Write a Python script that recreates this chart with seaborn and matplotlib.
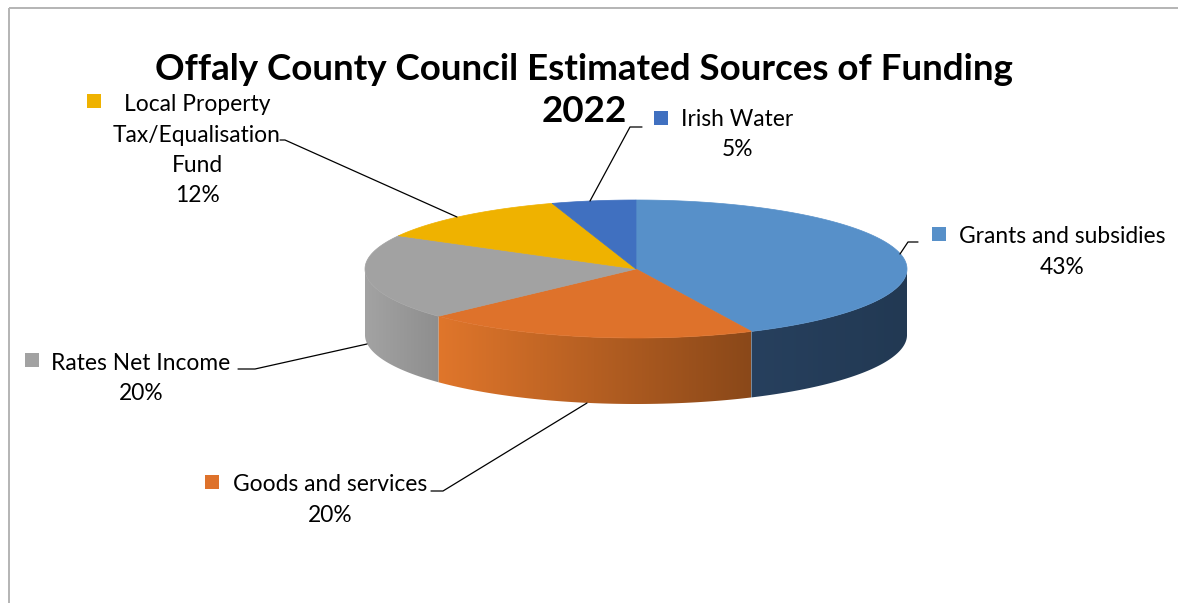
import numpy as np
import matplotlib
matplotlib.use("Agg")
import matplotlib.pyplot as plt
import seaborn as sns
from matplotlib.patches import Polygon, Rectangle
from matplotlib.colors import to_rgb

# ---------------- data ----------------
categories = ["Grants and subsidies", "Goods and services", "Rates Net Income",
              "Local Property\nTax/Equalisation\nFund", "Irish Water"]
values = [43, 20, 20, 12, 5]
top_colors = ["#5790c9", "#de722b", "#a2a2a2", "#efb200", "#4070c0"]
side_left = ["#27405e", "#e0762b", "#a3a3a3", "#c99600", "#2f5597"]
side_right = ["#223953", "#8a4819", "#8e8e8e", "#c99600", "#2f5597"]
title_lines = ["Offaly County Council Estimated Sources of Funding", "2022"]

sns.set_theme(style="white")
plt.rcParams['font.family'] = ['Lato', 'DejaVu Sans']

W, H = 1178, 603
fig = plt.figure(figsize=(W / 100, H / 100), dpi=100)
ax = fig.add_axes([0, 0, 1, 1])
ax.set_xlim(0, W)
ax.set_ylim(H, 0)
ax.axis("off")

# frame lines (top and left)
ax.plot([9, W], [8, 8], color="#b4b4b4", lw=1.4, solid_capstyle="butt")
ax.plot([9, 9], [8, H], color="#b4b4b4", lw=1.4, solid_capstyle="butt")

# ---------------- 3D pie geometry ----------------
cx, cy, rx, ry, depth = 636, 269, 271, 69, 66
start = 90.0
angles = []
a = start
for v in values:
    span = 360.0 * v / sum(values)
    angles.append((a - span, a))  # clockwise
    a -= span


def pt(t_deg, dy=0.0):
    t = np.radians(t_deg)
    return cx + rx * np.cos(t), cy - ry * np.sin(t) + dy


# sides (front visible part: angles between -180 and 0), gradient fill
for i, (a0, a1) in enumerate(angles):
    segs = []
    for shift in (0, -360, 360):
        l, h = a0 + shift, a1 + shift
        l2, h2 = max(l, -180), min(h, 0)
        if h2 > l2:
            segs.append((l2, h2))
    for (l2, h2) in segs:
        ts = np.linspace(l2, h2, 200)
        top = [pt(t) for t in ts]
        bot = [pt(t, depth) for t in ts[::-1]]
        poly = Polygon(top + bot, closed=True, facecolor="none", edgecolor="none")
        ax.add_patch(poly)
        xs = [p[0] for p in top]
        ys = [p[1] for p in top]
        xmin, xmax = min(xs), max(xs)
        ymin, ymax = min(ys), max(ys) + depth
        c_left = np.array(to_rgb(side_left[i]))
        c_right = np.array(to_rgb(side_right[i]))
        f = np.linspace(0, 1, 256)[None, :, None]
        img = c_left[None, None, :] * (1 - f) + c_right[None, None, :] * f
        img = np.repeat(img, 2, axis=0)
        im = ax.imshow(img, extent=(xmin, xmax, ymax + 1, ymin - 1),
                       aspect="auto", interpolation="bilinear", zorder=1)
        im.set_clip_path(poly)

# top face
for i, (a0, a1) in enumerate(angles):
    ts = np.linspace(a0, a1, 200)
    pts = [(cx, cy)] + [pt(t) for t in ts]
    ax.add_patch(Polygon(pts, closed=True, facecolor=top_colors[i],
                         edgecolor=top_colors[i], lw=0.5, zorder=2))

ax.set_xlim(0, W)
ax.set_ylim(H, 0)

# ---------------- labels ----------------
fig.canvas.draw()
renderer = fig.canvas.get_renderer()


def fit(t, width):
    bb = t.get_window_extent(renderer)
    t.set_fontsize(t.get_fontsize() * width / bb.width)


# label layout: (text centre x, first line centre y, marker centre, first-line width)
layout = {
    "Grants and subsidies": (1062, 235, (939, 234), 209),
    "Goods and services": (330, 483, (212, 482), 195),
    "Rates Net Income": (141, 362, (32, 360), 179),
    "Local Property\nTax/Equalisation\nFund": (197, 103, (94, 101), 145),
    "Irish Water": (737, 118, (661, 118), 111),
}
leaders = {
    "Grants and subsidies": [(900, 254), (908, 242), (918, 242)],
    "Goods and services": [(587, 403), (443, 491), (431, 491)],
    "Rates Net Income": [(367, 344), (255, 369), (238, 369)],
    "Local Property\nTax/Equalisation\nFund": [(457, 217), (285, 140), (280, 140)],
    "Irish Water": [(590, 201), (630, 127), (642, 127)],
}

base_fs = 15.5
sizes = []
for cat in categories:
    lx, ly, mk, w = layout[cat]
    first = cat.split("\n")[0]
    t = ax.text(lx, ly, first, fontsize=base_fs)
    bb = t.get_window_extent(renderer)
    sizes.append(base_fs * w / bb.width)
    t.remove()
fs = float(np.median(sizes))

line_gap = 30.5
for cat, v, col in zip(categories, values, top_colors):
    lx, ly, (mx, my), w = layout[cat]
    lines = cat.split("\n") + [f"{v}%"]
    for j, s in enumerate(lines):
        ax.text(lx, ly + j * line_gap + 8, s, fontsize=fs, ha="center",
                va="baseline", color="#000000", zorder=4)
    ax.add_patch(Rectangle((mx - 7, my - 7), 14, 14, facecolor=col,
                           edgecolor="none", zorder=4))
    xs, ys = zip(*leaders[cat])
    ax.plot(xs, ys, color="#000000", lw=0.9, zorder=3)

# title
t1 = ax.text(584, 80, title_lines[0], fontsize=27, fontweight="bold",
             ha="center", va="baseline", color="#000000", zorder=4)
fit(t1, 858)
ax.text(584, 122, title_lines[1], fontsize=t1.get_fontsize(), fontweight="bold",
        ha="center", va="baseline", color="#000000", zorder=4)

fig.savefig("out.png", dpi=100, facecolor="white")
